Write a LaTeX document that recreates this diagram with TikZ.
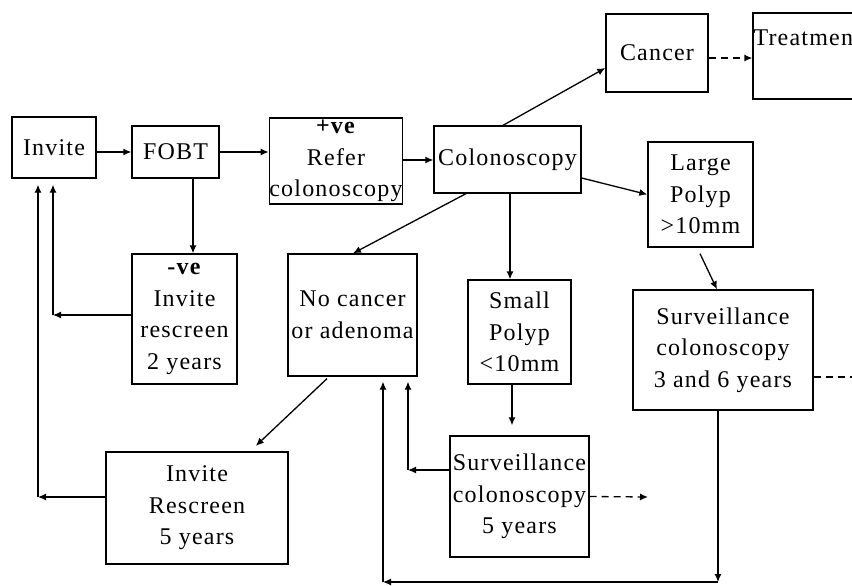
\documentclass[tikz,border=0pt]{standalone}
\usepackage{fontspec}
\setmainfont{Liberation Serif}[LetterSpace=5]
\usetikzlibrary{arrows.meta}
\begin{document}
\begin{tikzpicture}[x=1pt,y=-1pt,
  box/.style={draw, line width=1.3pt, inner sep=0pt, align=center, font=\fontsize{24}{31.5}\selectfont},
  conn/.style={line width=1.3pt, -{Latex[length=8pt,width=7pt]}},
  dconn/.style={conn, dash pattern=on 7pt off 5pt},
  dline/.style={line width=1.3pt, dash pattern=on 7pt off 5pt},
  seg/.style={line width=1.3pt}]
\clip (0,0) rectangle (852,586);
\fill[white] (0,0) rectangle (852,586);
% boxes
\node[box, minimum width=84pt, minimum height=61pt] (invite) at (54,147.5) {Invite};
\node[box, minimum width=87pt, minimum height=52pt] (fobt) at (175.5,152) {FOBT};
\node[box, minimum width=132pt, minimum height=86pt] (refer) at (336,161) {\textbf{+ve}\\Refer\\colonoscopy};
\node[box, minimum width=147pt, minimum height=67pt] (colon) at (507.5,159.5) {Colonoscopy};
\node[box, minimum width=102pt, minimum height=78pt] (cancer) at (657,53) {Cancer};
\node[box, minimum width=120pt, minimum height=86pt,
  label={[anchor=north west, inner sep=1pt, yshift=-16pt, font=\fontsize{24}{31.5}\selectfont]north west:Treatment}] (treat) at (813,56) {};
\node[box, minimum width=105pt, minimum height=105pt] (large) at (700.5,194.5) {Large\\Polyp\\{>}10mm};
\node[box, minimum width=180pt, minimum height=120pt] (surv36) at (723,350) {Surveillance\\colonoscopy\\3 and 6 years};
\node[box, minimum width=129pt, minimum height=122pt] (nocancer) at (352.5,315) {No cancer\\or adenoma};
\node[box, minimum width=103pt, minimum height=104pt] (small) at (519.5,332) {Small\\Polyp\\{<}10mm};
\node[box, minimum width=139pt, minimum height=121pt] (surv5) at (519.5,496.5) {Surveillance\\colonoscopy\\5 years};
\node[box, minimum width=182pt, minimum height=112pt] (rescreen) at (197,508) {Invite\\Rescreen\\5 years};
\node[box, minimum width=105pt, minimum height=130pt] (neg) at (184.5,319) {\textbf{-ve}\\Invite\\rescreen\\2 years};
% corner points
\coordinate (nA) at (53,315);
\coordinate (rA) at (38,497);
\coordinate (sA) at (408,470);
\coordinate (bR) at (718,582);
\coordinate (bL) at (383,582);
\coordinate (dEnd) at (870,377);
\coordinate (d5) at (648,497);
% connectors
\draw[conn] (invite.east |- fobt.west) -- (fobt.west);
\draw[conn] (fobt.east) -- (fobt.east -| refer.west);
\draw[conn] ([yshift=1pt]refer.east) -- ([yshift=1pt]refer.east -| colon.west);
\draw[conn] ([xshift=-4.5pt]colon.north) -- ([yshift=-15pt]cancer.west);
\draw[dconn] ([yshift=-5pt]cancer.east) -- ([yshift=-5pt]cancer.east -| treat.west);
\draw[conn] ([yshift=-18.5pt]colon.east) -- (large.west);
\draw[conn] ([xshift=2.5pt]colon.south) -- ([xshift=2.5pt]colon.south |- small.north);
\draw[conn] ([xshift=-41.5pt]colon.south) -- ([xshift=0.5pt]nocancer.north);
\draw[conn] ([xshift=17.5pt]fobt.south) -- ([xshift=17.5pt]fobt.south |- neg.north);
\draw[conn] ([yshift=4pt]neg.west) -- (nA);
\draw[conn, shorten >=6pt] (nA) -- (nA |- invite.south);
\draw[conn] ([yshift=11pt]rescreen.west) -- (rA);
\draw[conn, shorten >=6pt] (rA) -- (rA |- invite.south);
\draw[conn, shorten >=8pt] ([xshift=-25.5pt,yshift=-2pt]nocancer.south) -- ([xshift=53pt]rescreen.north);
\draw[conn, shorten >=10pt] ([xshift=-7.5pt]small.south) -- ([xshift=-7.5pt]small.south |- surv5.north);
\draw[conn] ([xshift=-0.5pt,yshift=-6pt]large.south) -- ([xshift=-6pt]surv36.north);
\draw[dline] ([yshift=-27pt]surv36.east) -- (dEnd);
\draw[dconn] (surv5.east) -- (d5);
\draw[conn] ([yshift=26.5pt]surv5.west) -- (sA);
\draw[conn, shorten >=5pt] (sA) -- (sA |- nocancer.south);
\draw[conn] ([xshift=-5pt]surv36.south) -- (bR);
\draw[conn] (bR) -- (bL);
\draw[conn, shorten >=5pt] (bL) -- (bL |- nocancer.south);
\end{tikzpicture}
\end{document}
